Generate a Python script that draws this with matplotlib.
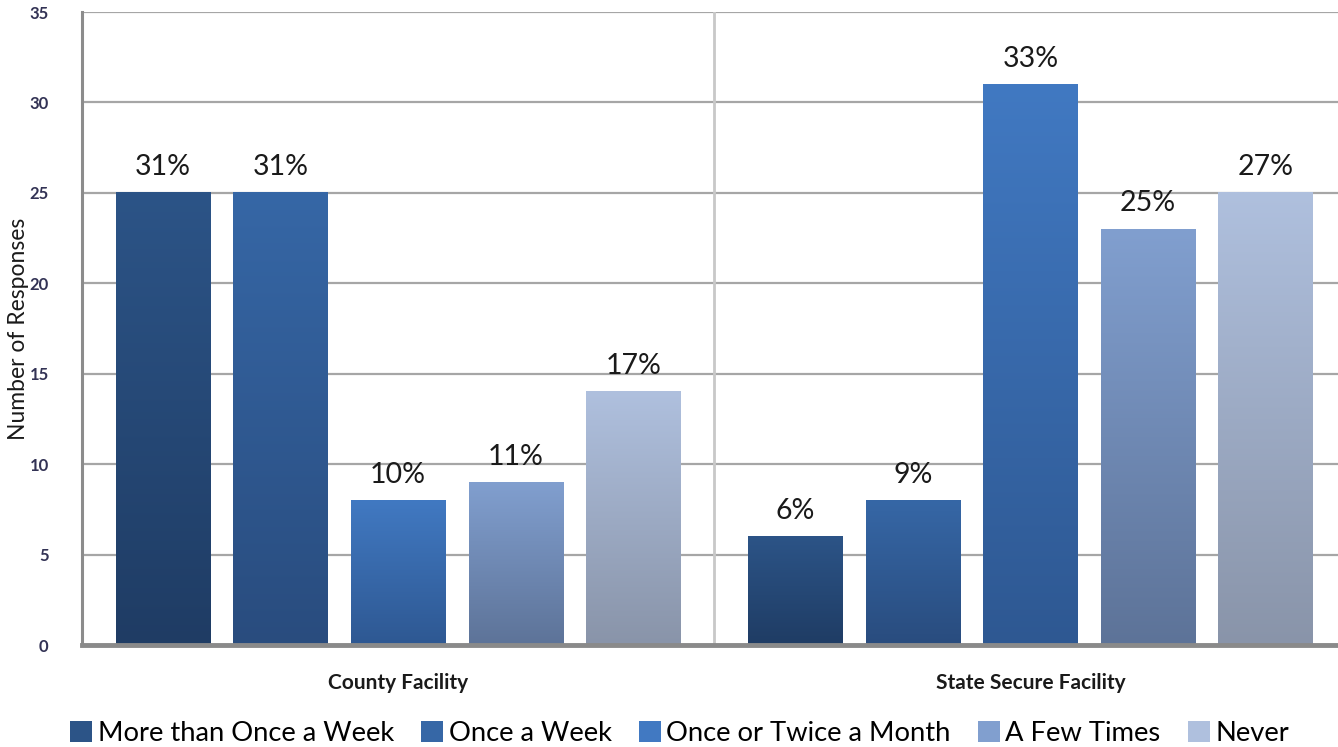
import matplotlib.pyplot as plt
import numpy as np
from matplotlib.colors import to_rgb

plt.rcParams['font.family'] = ['Lato', 'DejaVu Sans']

facilities = ['County Facility', 'State Secure Facility']
frequencies = ['More than Once a Week', 'Once a Week', 'Once or Twice a Month',
               'A Few Times', 'Never']
counts = np.array([
    [25, 6],
    [25, 8],
    [8, 31],
    [9, 23],
    [14, 25],
])
percents = [
    ['31%', '6%'],
    ['31%', '9%'],
    ['10%', '33%'],
    ['11%', '25%'],
    ['17%', '27%'],
]
# (top colour, bottom colour) of each gradient bar
shades = [
    ('#2c5487', '#1f3c64'),
    ('#3667a6', '#294c7e'),
    ('#4179c2', '#2e5892'),
    ('#819fcf', '#5d7398'),
    ('#afc0de', '#8994a9'),
]


def gradient_bar(ax, x0, width, height, top, bottom):
    t = np.array(to_rgb(top))
    b = np.array(to_rgb(bottom))
    f = np.linspace(0, 1, 256)[:, None]
    img = (b * (1 - f) + t * f)[:, None, :]
    ax.imshow(img, extent=(x0, x0 + width, 0, height), origin='lower',
              aspect='auto', zorder=3, interpolation='bilinear')


fig = plt.figure(figsize=(13.38, 7.47), dpi=100)
ax = fig.add_axes([0.0613, 0.1365, 0.945, 0.8474])

x = np.arange(len(facilities))
step = 0.186
width = 0.149
handles = []
for i, name in enumerate(frequencies):
    xs = x + (i - 2) * step
    top, bottom = shades[i]
    bars = ax.bar(xs, counts[i], width, color=top, label=name, zorder=2)
    handles.append(bars[0])
    for xx, h, p in zip(xs, counts[i], percents[i]):
        gradient_bar(ax, xx - width / 2, width, h, top, bottom)
        ax.text(xx, h + 0.7, p, ha='center', va='bottom', fontsize=20.5,
                color='#1a1a1a', zorder=4)

ax.set_xlim(-0.5, 1.5)
ax.set_ylim(0, 35)
ax.set_yticks(range(0, 36, 5))
ax.set_xticks(x)
ax.set_xticklabels(facilities, fontsize=15, fontweight='bold', color='#1a1a1a')
ax.tick_params(axis='both', length=0)
ax.tick_params(axis='y', pad=24, labelsize=12, labelcolor='#333355')
ax.tick_params(axis='x', pad=20)
for lbl in ax.get_yticklabels():
    lbl.set_fontweight('bold')
ax.set_ylabel('Number of Responses', fontsize=16.5, color='#1a1a1a', labelpad=0)

ax.grid(axis='y', color='#a6a6a6', linewidth=1.6, zorder=0)
ax.axvline(0.5, color='#c8c8c8', linewidth=2, zorder=1)
ax.set_axisbelow(True)
for side in ['top', 'right']:
    ax.spines[side].set_visible(False)
ax.spines['left'].set_color('#8c8c8c')
ax.spines['left'].set_linewidth(2.2)
ax.spines['bottom'].set_color('#8a8a8a')
ax.spines['bottom'].set_linewidth(3.5)
ax.spines['bottom'].set_zorder(5)

fig.legend(handles=handles, labels=frequencies, loc='center',
           bbox_to_anchor=(0.508, 0.018), ncol=5, frameon=False, fontsize=19.7,
           handlelength=0.8, handleheight=0.8, handletextpad=0.2,
           columnspacing=1.0, borderaxespad=0)

fig.savefig('out.png', dpi=100)
